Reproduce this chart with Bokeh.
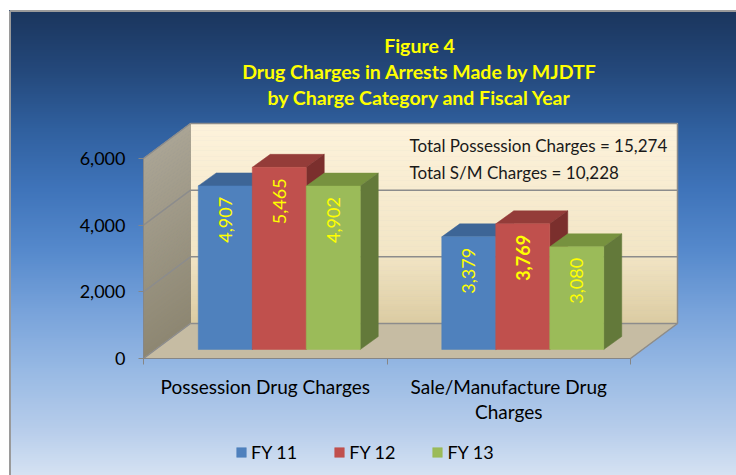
import numpy as np
from bokeh.plotting import figure
from bokeh.models import (Range1d, LinearAxis, FixedTicker, NumeralTickFormatter,
                          Legend, LegendItem, ColumnDataSource)
from bokeh.core.properties import value
from bokeh.embed import file_html
from bokeh.resources import INLINE

# ---------------- data ----------------
categories = ["Possession Drug Charges", "Sale/Manufacture Drug\nCharges"]
series_names = ["FY 11", "FY 12", "FY 13"]
fy11 = [4907, 3379]
fy12 = [5465, 3769]
fy13 = [4902, 3080]
y_ticks = [0, 2000, 4000, 6000]
title_lines = ["Figure 4",
               "Drug Charges in Arrests Made by MJDTF",
               "by Charge Category and Fiscal Year"]
bold_labels = [(1, 1)]  # (category, series) label shown in bold

series_values = [fy11, fy12, fy13]
front_colors = ["#4f81bd", "#c0504d", "#9bbb59"]
top_colors = ["#3d6596", "#943c39", "#77923f"]
side_colors = ["#30507a", "#7b2f2d", "#63793a"]

FONT = "Lato"

# ---------------- layout helpers ----------------
W, H = 736, 475
X0, Y0 = 143.0, 358.0          # figure px of the data origin
SX = 243.5                     # px per category
SY = 200.0 / 6000              # px per value unit


def X(fx):
    return (fx - X0) / SX


def Y(fy):
    return (Y0 - fy) / SY


def dx(px):
    return px / SX


def dy(px):
    return px / SY


def hex2rgb(h):
    h = h.lstrip("#")
    return np.array([int(h[i:i + 2], 16) for i in (0, 2, 4)], dtype=float)


def grad(stops_pos, stops_col, pos):
    cols = np.array([hex2rgb(c) for c in stops_col])
    r = np.interp(pos, stops_pos, cols[:, 0])
    g = np.interp(pos, stops_pos, cols[:, 1])
    b = np.interp(pos, stops_pos, cols[:, 2])
    return ["#%02x%02x%02x" % (int(a), int(bb), int(c)) for a, bb, c in zip(r, g, b)]


p = figure(width=W, height=H, x_range=Range1d(X(0), X(W)), y_range=Range1d(Y(H), Y(0)),
           output_backend="svg", toolbar_location=None,
           x_axis_location=None, y_axis_location=None,
           min_border=0, border_fill_color="white", background_fill_color="white",
           outline_line_color=None)
p.xgrid.visible = False
p.ygrid.visible = False

# ---------------- background gradient ----------------
step = 2
fys = np.arange(10, H, step)
bg_cols = grad([10, 68, 128, 188, 248, 308, 368, 428, 475],
               ["#1b365d", "#24487a", "#30609f", "#3f74ba", "#5589cc",
                "#77a2da", "#97b9e4", "#b7cdeb", "#d6e3f3"], fys)
p.quad(left=X(9), right=X(W), top=[Y(f) for f in fys], bottom=[Y(f + step) for f in fys],
       fill_color=bg_cols, line_color=bg_cols, line_width=1)
p.segment(x0=[X(9.5), X(9.5)], y0=[Y(10.5), Y(10.5)], x1=[X(9.5), X(W)], y1=[Y(H), Y(10.5)],
          line_color="#9a9a9a", line_width=2)

# ---------------- 3D walls ----------------
NCAT = len(categories)
YMAX = y_ticks[-1]
DX, DY = dx(47), dy(35)

nb = 60
vv = np.linspace(0, YMAX, nb + 1)
wall_cols = grad([0, 0.35, 1.0], ["#dccca2", "#f3e6c6", "#fef3dc"], (vv[:-1] + vv[1:]) / 2 / YMAX)
p.quad(left=DX, right=NCAT + DX, bottom=vv[:-1] + DY, top=vv[1:] + DY,
       fill_color=wall_cols, line_color=wall_cols, line_width=1)

lw_cols = grad([0, 1.0], ["#8e8772", "#aba595"], (vv[:-1] + vv[1:]) / 2 / YMAX)
p.patches(xs=[[0, 0, DX, DX] for _ in range(nb)],
          ys=[[a, b, b + DY, a + DY] for a, b in zip(vv[:-1], vv[1:])],
          fill_color=lw_cols, line_color=lw_cols, line_width=1)

p.patch(x=[0, NCAT, NCAT + DX, DX], y=[0, 0, DY, DY], fill_color="#c6bca3",
        line_color="#b5ab92", line_width=1)

grid_x0, grid_y0, grid_x1, grid_y1 = [], [], [], []
for v in y_ticks:
    grid_x0 += [DX, 0]
    grid_y0 += [v + DY, v]
    grid_x1 += [NCAT + DX, DX]
    grid_y1 += [v + DY, v + DY]
grid_x0 += [NCAT + DX, NCAT]
grid_y0 += [DY, 0]
grid_x1 += [NCAT + DX, NCAT + DX]
grid_y1 += [YMAX + DY, DY]
p.segment(x0=grid_x0, y0=grid_y0, x1=grid_x1, y1=grid_y1, line_color="#8c8c8c", line_width=1.5)

# ---------------- bars ----------------
BW = dx(54)
BOX, BOY = dx(14), dy(9)
DDX, DDY = dx(18), dy(13)
nser = len(series_values)

front_renderers = []
for j, vals in enumerate(series_values):
    lefts = [i + 0.5 + BOX - nser / 2 * BW + j * BW for i in range(NCAT)]
    rights = [l + BW for l in lefts]
    tops = [v + BOY for v in vals]
    bottoms = [BOY] * NCAT
    # top faces
    p.patches(xs=[[l, r, r + DDX, l + DDX] for l, r in zip(lefts, rights)],
              ys=[[t, t, t + DDY, t + DDY] for t in tops],
              fill_color=top_colors[j], line_color=top_colors[j], line_width=0.5)
    # side faces
    p.patches(xs=[[r, r, r + DDX, r + DDX] for r in rights],
              ys=[[b, t, t + DDY, b + DDY] for b, t in zip(bottoms, tops)],
              fill_color=side_colors[j], line_color=side_colors[j], line_width=0.5)
    src = ColumnDataSource(dict(left=lefts, right=rights, top=tops, bottom=bottoms))
    fr = p.quad(left="left", right="right", top="top", bottom="bottom", source=src,
                fill_color=front_colors[j], line_color=front_colors[j], line_width=0.5)
    front_renderers.append(fr)

    lab = ColumnDataSource(dict(
        x=[(l + r) / 2 for l, r in zip(lefts, rights)],
        y=[t - dy(11) for t in tops],
        text=["{:,}".format(v) for v in vals],
        style=["bold" if (i, j) in bold_labels else "normal" for i in range(NCAT)]))
    p.text(x="x", y="y", text="text", source=lab, angle=np.pi / 2,
           text_align="right", text_baseline="middle", text_color="#ffff00",
           text_font=value(FONT), text_font_size="18px", text_font_style="style")

# ---------------- axes ----------------
yaxis = LinearAxis(fixed_location=0, bounds=(0, YMAX),
                   ticker=FixedTicker(ticks=y_ticks, minor_ticks=[]),
                   formatter=NumeralTickFormatter(format="0,0"))
yaxis.axis_line_color = "#868686"
yaxis.major_tick_line_color = "#868686"
yaxis.major_tick_out = 5
yaxis.major_tick_in = 0
yaxis.minor_tick_line_color = None
yaxis.major_label_standoff = 13
yaxis.major_label_text_font = FONT
yaxis.major_label_text_font_size = "18px"
yaxis.major_label_text_color = "#000000"
p.add_layout(yaxis, "left")

xaxis = LinearAxis(fixed_location=0, bounds=(0, NCAT),
                   ticker=FixedTicker(ticks=[i + 0.5 for i in range(NCAT)],
                                      minor_ticks=list(range(NCAT + 1))),
                   major_label_overrides={i + 0.5: c for i, c in enumerate(categories)})
xaxis.axis_line_color = "#868686"
xaxis.major_tick_line_color = None
xaxis.major_tick_out = 0
xaxis.major_tick_in = 0
xaxis.minor_tick_line_color = "#868686"
xaxis.minor_tick_out = 6
xaxis.minor_tick_in = 0
xaxis.major_label_standoff = 10
xaxis.major_label_text_font = FONT
xaxis.major_label_text_font_size = "19px"
xaxis.major_label_text_color = "#000000"
xaxis.major_label_text_line_height = 1.1
p.add_layout(xaxis, "below")

# ---------------- texts ----------------
p.text(x=[X(419)] * 3, y=[Y(45), Y(71), Y(97)], text=title_lines,
       text_align="center", text_baseline="middle", text_color="#ffff00",
       text_font=value(FONT), text_font_size="19.5px", text_font_style="bold")

totals = ["Total Possession Charges = {:,}".format(sum(v[0] for v in series_values)),
          "Total S/M Charges = {:,}".format(sum(v[1] for v in series_values))]
p.text(x=[X(409)] * 2, y=[Y(145), Y(172)], text=totals,
       text_align="left", text_baseline="middle", text_color="#1a1a1a",
       text_font=value(FONT), text_font_size="17px")

# ---------------- legend ----------------
legend = Legend(items=[LegendItem(label=s, renderers=[r]) for s, r in zip(series_names, front_renderers)],
                orientation="horizontal", location=(235, 12),
                glyph_width=12, glyph_height=12, label_standoff=4, spacing=36,
                padding=0, margin=0, background_fill_alpha=0, border_line_color=None,
                label_text_font=FONT, label_text_font_size="18px", label_text_color="#000000")
p.add_layout(legend)

open("out.html", "w").write(file_html(p, INLINE))
